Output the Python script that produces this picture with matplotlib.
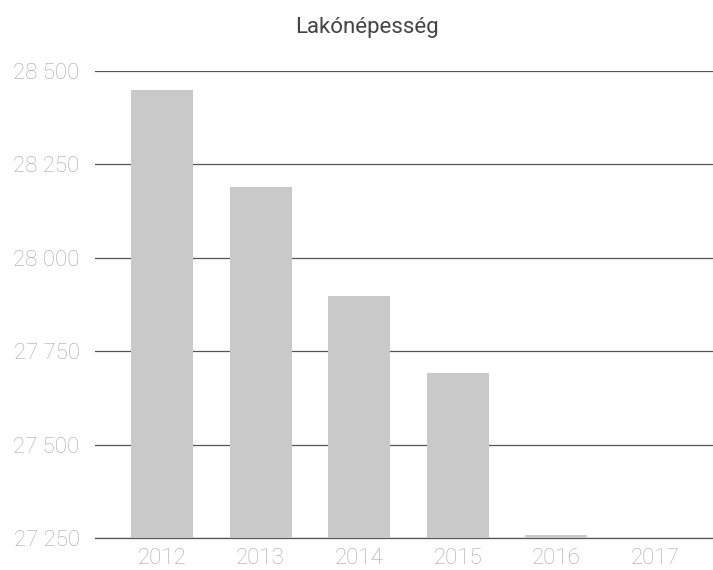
import matplotlib.pyplot as plt
from matplotlib.ticker import FuncFormatter

years = ['2012', '2013', '2014', '2015', '2016', '2017']
population = [28449, 28190, 27898, 27691, 27258, 27250]
y_ticks = [27250, 27500, 27750, 28000, 28250, 28500]


def main():
    plt.rcParams['font.family'] = ['Roboto', 'DejaVu Sans']
    fig = plt.figure(figsize=(7.13, 5.70), dpi=100)
    ax = fig.add_axes([95 / 713, 1 - 538 / 570, 1 - 95 / 713, (538 - 71) / 570])

    x = list(range(len(years)))
    ax.bar(x, [p - y_ticks[0] for p in population], bottom=y_ticks[0],
           width=0.63, color='#c9c9c9', zorder=3)

    ax.set_ylim(y_ticks[0], y_ticks[-1])
    ax.set_xlim(-0.68, 5.59)
    ax.set_yticks(y_ticks)
    ax.yaxis.set_major_formatter(FuncFormatter(lambda v, p: f'{int(v):,}'.replace(',', ' ')))
    ax.set_xticks(x)
    ax.set_xticklabels(years)
    ax.grid(axis='y', color='#555555', linewidth=0.9, zorder=1)
    ax.tick_params(length=0, labelsize=16, labelcolor='#a8a8a8', pad=11)
    ax.tick_params(axis='x', pad=7)
    for lbl in ax.get_xticklabels() + ax.get_yticklabels():
        lbl.set_fontweight('light')
    for s in ['top', 'right', 'left']:
        ax.spines[s].set_visible(False)
    ax.spines['bottom'].set_color('#555555')
    ax.spines['bottom'].set_linewidth(0.9)

    fig.text(367 / 713, 1 - 28 / 570, 'Lakónépesség', ha='center', va='center',
             fontsize=16, color='#444444')
    fig.savefig('out.png', dpi=100)


if __name__ == '__main__':
    main()
